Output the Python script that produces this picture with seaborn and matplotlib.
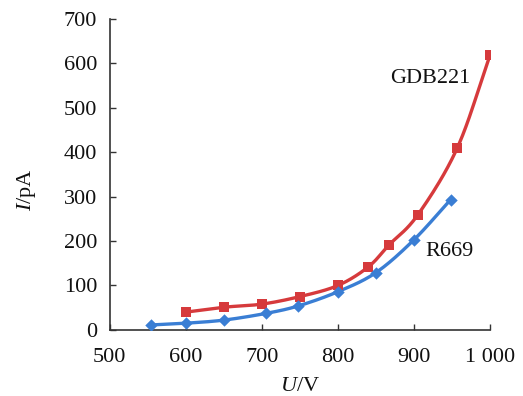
import matplotlib
matplotlib.use("Agg")
import matplotlib.pyplot as plt
import seaborn as sns
import pandas as pd
import numpy as np

# Data
u_gdb = [600, 650, 700, 750, 800, 840, 867, 905, 957, 1000]
i_gdb = [40, 51, 58, 75, 100, 142, 191, 259, 410, 619]
u_r669 = [554, 600, 650, 705, 748, 800, 850, 900, 948]
i_r669 = [11, 15, 22, 37, 54, 86, 129, 203, 293]
x_ticks = [500, 600, 700, 800, 900, 1000]
x_ticklabels = ["500", "600", "700", "800", "900", "1 000"]
y_ticks = [0, 100, 200, 300, 400, 500, 600, 700]


def smooth(xs, ys, n=20):
    """Catmull-Rom curve through the given points (display smoothing only)."""
    x = np.asarray(xs, float)
    y = np.asarray(ys, float)
    sx, sy = 500.0, 700.0
    P = np.column_stack([x / sx, y / sy])
    P = np.vstack([2 * P[0] - P[1], P, 2 * P[-1] - P[-2]])
    out = []
    t = np.linspace(0, 1, n, endpoint=False)
    for k in range(1, len(P) - 2):
        p0, p1, p2, p3 = P[k - 1], P[k], P[k + 1], P[k + 2]
        tt = t[:, None]
        seg = 0.5 * ((2 * p1) + (-p0 + p2) * tt + (2 * p0 - 5 * p1 + 4 * p2 - p3) * tt ** 2
                     + (-p0 + 3 * p1 - 3 * p2 + p3) * tt ** 3)
        out.append(seg)
    out.append(P[-2][None, :])
    out = np.vstack(out)
    return pd.DataFrame({"U": out[:, 0] * sx, "I": out[:, 1] * sy})


sns.set_theme(style="white")
plt.rcParams["font.family"] = ["Liberation Serif", "DejaVu Serif"]
plt.rcParams["mathtext.fontset"] = "custom"
plt.rcParams["mathtext.rm"] = "Liberation Serif"
plt.rcParams["mathtext.it"] = "Liberation Serif:italic"

df_g = pd.DataFrame({"U": u_gdb, "I": i_gdb})
df_r = pd.DataFrame({"U": u_r669, "I": i_r669})

fig = plt.figure(figsize=(5.23, 3.96), dpi=100)
ax = fig.add_axes([0.210, 0.167, 0.727, 0.785])

red = "#d63a3c"
blue = "#3a7ed4"
sns.lineplot(data=smooth(u_gdb, i_gdb), x="U", y="I", ax=ax, color=red, lw=2.4,
             sort=False, estimator=None)
sns.scatterplot(data=df_g, x="U", y="I", ax=ax, color=red, marker="s", s=55,
                linewidth=0, zorder=3)
sns.lineplot(data=smooth(u_r669, i_r669), x="U", y="I", ax=ax, color=blue, lw=2.4,
             sort=False, estimator=None)
sns.scatterplot(data=df_r, x="U", y="I", ax=ax, color=blue, marker="D", s=40,
                linewidth=0, zorder=3)

ax.set_xlim(500, 1000)
ax.set_ylim(0, 700)
ax.set_xticks(x_ticks)
ax.set_xticklabels(x_ticklabels)
ax.set_yticks(y_ticks)
ax.tick_params(axis="both", direction="in", length=4, width=1, color="#333333",
               labelsize=16, labelcolor="#111111", left=True, bottom=True)
ax.tick_params(axis="x", pad=13)
ax.tick_params(axis="y", pad=9)
for s in ["top", "right"]:
    ax.spines[s].set_visible(False)
for s in ["left", "bottom"]:
    ax.spines[s].set_color("#333333")
    ax.spines[s].set_linewidth(1.2)

ax.set_xlabel(r"$\mathit{U}$/V", fontsize=16, color="#111111", labelpad=7)
ax.set_ylabel(r"$\mathit{I}$/pA", fontsize=16, color="#111111")
ax.yaxis.set_label_coords(-0.19, 0.45)

ax.text(921, 567, "GDB221", fontsize=16, ha="center", va="center", color="#111111")
ax.text(947, 176, "R669", fontsize=16, ha="center", va="center", color="#111111")

fig.savefig("out.png", dpi=100, facecolor="white")
